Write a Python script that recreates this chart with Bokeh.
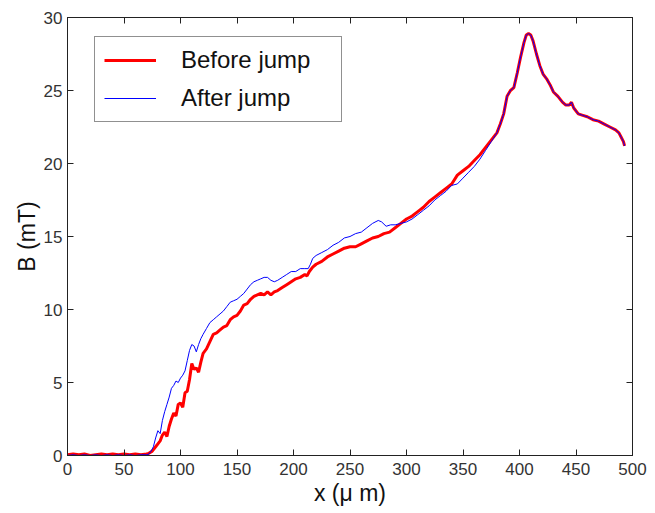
from bokeh.plotting import figure
from bokeh.models import LinearAxis, Range1d, Legend, LegendItem, FixedTicker
from bokeh.embed import file_html
from bokeh.resources import INLINE

# ---- data ----
x_before = [0, 5, 10, 15, 20, 25, 30, 35, 40, 45, 50, 55, 60, 65, 70, 72, 75, 78, 80, 82, 84, 86, 88, 90,
            92, 94, 96, 98, 100, 102, 104, 106, 108, 110, 112, 114, 116, 118, 120, 123, 126, 129, 132, 135,
            138, 141, 144, 147, 150, 153, 156, 159, 162, 165, 168, 171, 174, 177, 180, 183, 186, 190, 194,
            198, 202, 206, 210, 212, 214, 217, 220, 225, 230, 235, 240, 245, 250, 255, 260, 265, 270, 275,
            280, 285, 290, 295, 300, 305, 310, 315, 320, 325, 330, 335, 340, 345, 350, 355, 360, 365, 370,
            375, 380, 383, 386, 389, 392, 395, 398, 401, 404, 406, 408, 410, 412, 415, 418, 421, 424, 427,
            430, 434, 438, 441, 444, 446, 448, 452, 456, 460, 465, 470, 475, 480, 485, 488, 490, 492, 493]
b_before = [0.05, 0.1, 0.05, 0.1, 0.0, 0.05, 0.1, 0.05, 0.1, 0.05, 0.1, 0.05, 0.1, 0.05, 0.1, 0.15, 0.3,
            0.6, 0.8, 1.0, 1.4, 1.6, 1.3, 2.0, 2.5, 2.9, 2.7, 3.5, 3.6, 3.3, 4.3, 4.4, 5.2, 6.3, 5.9, 6.0,
            5.7, 6.4, 7.0, 7.3, 7.8, 8.3, 8.4, 8.6, 8.8, 8.9, 9.3, 9.5, 9.6, 9.9, 10.3, 10.4, 10.7, 10.9,
            11.0, 11.1, 11.0, 11.2, 11.0, 11.2, 11.3, 11.5, 11.7, 11.9, 12.1, 12.2, 12.4, 12.3, 12.6, 12.9,
            13.1, 13.3, 13.6, 13.8, 14.0, 14.2, 14.3, 14.3, 14.5, 14.7, 14.9, 15.0, 15.2, 15.3, 15.6, 15.9,
            16.2, 16.4, 16.7, 17.0, 17.4, 17.7, 18.0, 18.3, 18.6, 19.2, 19.5, 19.8, 20.2, 20.6, 21.1, 21.6,
            22.1, 22.7, 23.4, 24.6, 25.0, 25.2, 26.2, 27.3, 28.3, 28.8, 28.9, 28.8, 28.4, 27.5, 26.7, 26.1,
            25.8, 25.4, 24.9, 24.6, 24.2, 24.0, 24.0, 24.2, 23.8, 23.4, 23.3, 23.2, 23.0, 22.9, 22.7, 22.5,
            22.3, 22.1, 21.8, 21.5, 21.2]

x_after = [0, 5, 10, 15, 20, 25, 30, 35, 40, 45, 50, 55, 60, 65, 70, 72, 74, 76, 78, 80, 82, 84, 86, 88,
           90, 92, 94, 96, 98, 100, 102, 104, 106, 108, 110, 112, 114, 116, 118, 120, 123, 126, 129, 132,
           135, 138, 141, 144, 147, 150, 153, 156, 159, 162, 165, 168, 171, 174, 177, 180, 183, 186, 190,
           194, 198, 202, 206, 210, 213, 215, 217, 220, 225, 230, 235, 240, 245, 250, 255, 260, 265, 270,
           275, 278, 282, 286, 290, 295, 300, 305, 310, 315, 320, 325, 330, 335, 340, 345, 350, 355, 360,
           365, 370, 375, 380, 383, 386, 389, 392, 395, 398, 401, 404, 406, 408, 410, 412, 415, 418, 421,
           424, 427, 430, 434, 438, 441, 444, 446, 448, 452, 456, 460, 465, 470, 475, 480, 485, 488, 490,
           492, 493]
b_after = [0.0, 0.05, 0.0, 0.05, 0.0, 0.05, 0.0, 0.05, 0.0, 0.05, 0.0, 0.05, 0.0, 0.05, 0.05, 0.1, 0.3,
           0.6, 1.2, 1.7, 1.5, 2.4, 3.0, 3.5, 4.0, 4.6, 4.8, 5.1, 5.0, 5.3, 5.5, 5.8, 6.5, 7.2, 7.6, 7.5,
           7.1, 7.6, 8.0, 8.3, 8.7, 9.1, 9.3, 9.5, 9.7, 9.9, 10.2, 10.5, 10.6, 10.7, 10.9, 11.1, 11.4, 11.7,
           11.9, 12.0, 12.1, 12.2, 12.2, 12.0, 11.9, 12.0, 12.2, 12.4, 12.6, 12.6, 12.8, 12.8, 12.8, 13.1,
           13.5, 13.7, 13.9, 14.1, 14.4, 14.6, 14.9, 15.0, 15.2, 15.3, 15.6, 15.9, 16.1, 16.0, 15.7, 15.8,
           15.8, 15.9, 16.0, 16.2, 16.5, 16.8, 17.1, 17.5, 17.8, 18.1, 18.5, 18.6, 19.0, 19.4, 19.8, 20.3,
           20.9, 21.5, 22.1, 22.7, 23.4, 24.6, 25.0, 25.2, 26.2, 27.3, 28.3, 28.8, 28.9, 28.8, 28.4, 27.5,
           26.7, 26.1, 25.8, 25.4, 24.9, 24.6, 24.2, 24.0, 24.0, 24.2, 23.8, 23.4, 23.3, 23.2, 23.0, 22.9,
           22.7, 22.5, 22.3, 22.1, 21.8, 21.5, 21.2]

x_ticks = [0, 50, 100, 150, 200, 250, 300, 350, 400, 450, 500]
y_ticks = [0, 5, 10, 15, 20, 25, 30]
label_before = "Before jump"
label_after = "After jump"

FONT = "Liberation Sans"

p = figure(width=650, height=512, output_backend="svg", toolbar_location=None,
           x_range=Range1d(0, 500), y_range=Range1d(0, 30),
           min_border_left=67, min_border_right=18, min_border_top=17, min_border_bottom=57)
p.background_fill_color = "white"
p.border_fill_color = "white"
p.outline_line_color = "#222222"
p.outline_line_width = 1
p.grid.visible = False

r1 = p.line(x_before, b_before, line_color="#ff0000", line_width=3)
r2 = p.line(x_after, b_after, line_color="#0000ff", line_width=1)

for ax in (p.xaxis[0], p.yaxis[0]):
    ax.major_tick_in = 6
    ax.major_tick_out = 0
    ax.minor_tick_line_color = None
    ax.axis_line_color = "#222222"
    ax.major_tick_line_color = "#222222"
    ax.major_label_text_font = FONT
    ax.major_label_text_font_size = "17px"
    ax.major_label_text_color = "#333333"
    ax.axis_label_text_font = FONT
    ax.axis_label_text_font_size = "23px"
    ax.axis_label_text_font_style = "normal"
    ax.axis_label_text_color = "#111111"

p.xaxis[0].ticker = FixedTicker(ticks=x_ticks)
p.yaxis[0].ticker = FixedTicker(ticks=y_ticks)
p.xaxis[0].axis_label = "x (\u03bc m)"
p.yaxis[0].axis_label = "B (mT)"
p.xaxis[0].major_label_standoff = 7
p.yaxis[0].major_label_standoff = 5
p.xaxis[0].axis_label_standoff = 2
p.yaxis[0].axis_label_standoff = 1

for side, ticks in (("above", x_ticks), ("right", y_ticks)):
    ax = LinearAxis(ticker=FixedTicker(ticks=ticks), major_label_text_font_size="1px",
                    major_label_text_color=None, major_label_standoff=0,
                    major_tick_in=6, major_tick_out=0, minor_tick_line_color=None,
                    axis_line_color="#222222", major_tick_line_color="#222222")
    p.add_layout(ax, side)

legend = Legend(items=[LegendItem(label=label_before, renderers=[r1]),
                       LegendItem(label=label_after, renderers=[r2])],
                location=(27, 333), orientation="vertical")
legend.label_text_font = FONT
legend.label_text_font_size = "24px"
legend.label_text_color = "#111111"
legend.glyph_width = 52
legend.glyph_height = 28
legend.label_height = 28
legend.label_width = 151
legend.label_standoff = 25
legend.padding = 9
legend.spacing = 10
legend.margin = 0
legend.border_line_color = "#222222"
legend.border_line_width = 1
legend.background_fill_color = "white"
legend.background_fill_alpha = 1.0
p.add_layout(legend)

open("out.html", "w").write(file_html(p, INLINE))
